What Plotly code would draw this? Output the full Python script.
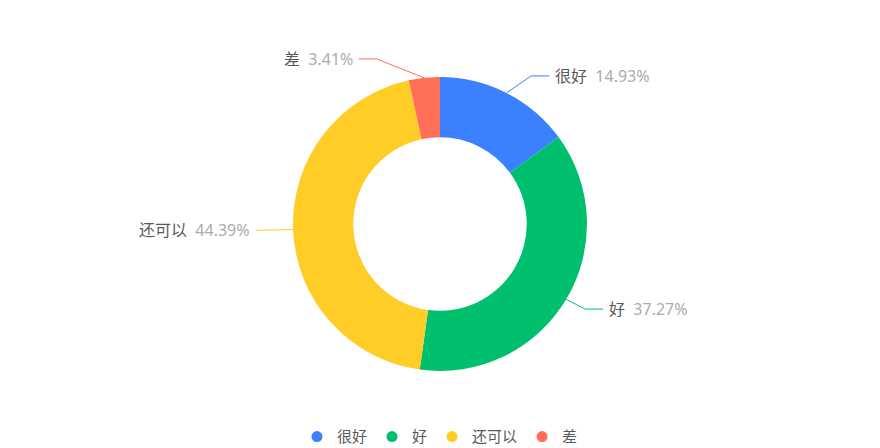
import math
import plotly.graph_objects as go

# ---- data ----
categories = ["很好", "好", "还可以", "差"]
values = [14.93, 37.27, 44.39, 3.41]
colors = ["#3A80FF", "#00C06E", "#FFCD25", "#FF6E55"]

# ---- layout constants ----
W, H = 880, 448
cx, cy = 440, 224
R_OUT = 147
LEN1, LEN2 = 19, 18
FONT = "Noto Sans, Noto Sans CJK SC, sans-serif"

fig = go.Figure()
fig.add_trace(go.Pie(
    labels=categories, values=values, sort=False, direction="clockwise",
    rotation=0, hole=0.59,
    marker=dict(colors=colors, line=dict(width=0)),
    textinfo="none", hoverinfo="label+percent", showlegend=False,
    domain=dict(x=[0, 1], y=[(H - (cy + R_OUT)) / H, (H - (cy - R_OUT)) / H]),
))

# legend entries (circle markers)
for name, c in zip(categories, colors):
    fig.add_trace(go.Scatter(
        x=[None], y=[None], mode="markers", name=name,
        marker=dict(color=c, size=11, symbol="circle"),
        showlegend=True, hoverinfo="skip",
    ))

# leader lines and labels computed from the values
total = sum(values)
cum = 0.0
annotations = []
for name, v, c in zip(categories, values, colors):
    mid = (cum + v / 2) / total * 2 * math.pi
    cum += v
    s, co = math.sin(mid), math.cos(mid)
    x0, y0 = cx + R_OUT * s, cy - R_OUT * co
    ly = cy - (R_OUT + LEN1) * co
    d = 1 if s >= 0 else -1
    dy = abs(ly - cy)
    rl = R_OUT + LEN1 + LEN2
    dx = math.sqrt(max(rl * rl - dy * dy, 0))
    ex = cx + d * dx
    bx = ex - d * LEN2
    fig.add_trace(go.Scatter(
        x=[x0, bx, ex], y=[y0, ly, ly], mode="lines",
        line=dict(color=c, width=1), showlegend=False, hoverinfo="skip",
    ))
    pct = v / total * 100
    annotations.append(dict(
        x=ex + d * 4, y=ly, xref="x", yref="y",
        xanchor="left" if d > 0 else "right", yanchor="middle",
        text=f"<span style='color:#595959'>{name}</span>\u00a0\u00a0<span style='color:#ababab'>{pct:.2f}%</span>",
        showarrow=False, font=dict(size=16, family=FONT),
    ))

fig.update_layout(
    width=W, height=H,
    margin=dict(l=0, r=0, t=0, b=0, pad=0, autoexpand=False),
    paper_bgcolor="white", plot_bgcolor="white",
    xaxis=dict(range=[0, W], visible=False, fixedrange=True),
    yaxis=dict(range=[H, 0], visible=False, fixedrange=True),
    annotations=annotations,
    showlegend=True,
    legend=dict(orientation="h", x=0.5, xanchor="center", y=0.025, yanchor="middle",
                font=dict(size=15, color="#595959", family=FONT),
                bgcolor="rgba(0,0,0,0)"),
    font=dict(family=FONT),
)

fig.write_html("out.html", config={"displayModeBar": False},
               post_script="document.body.style.margin='0';")
